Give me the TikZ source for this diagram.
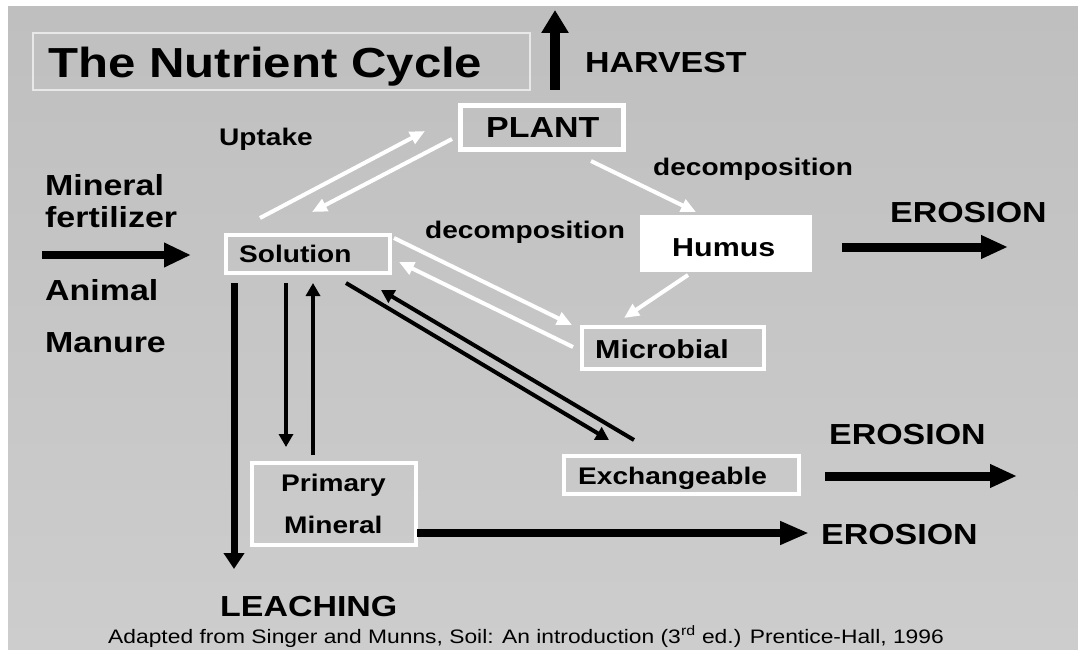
\documentclass[tikz,border=0pt]{standalone}
\usepackage{fontspec}
\setmainfont{Liberation Sans}[FakeStretch=1.17]
\usetikzlibrary{arrows.meta}
\definecolor{bgtop}{RGB}{191,191,191}
\definecolor{bgbot}{RGB}{205,205,205}
\definecolor{framec}{RGB}{232,232,232}
\begin{document}
\begin{tikzpicture}[x=1pt,y=-1pt,
  lbl/.style={inner sep=0pt, anchor=base west, font=\bfseries\fontsize{#1}{#1}\selectfont},
  lbl/.default=24,
  wbox/.style={draw=white, line width=4pt, inner sep=0pt},
  bigarrow/.style={draw=black, line width=9pt, -{Triangle[length=27pt,width=22pt]}},
  thinblack/.style={draw=black, line width=4pt, -{Triangle[length=13pt,width=14pt]}},
  whitearrow/.style={draw=white, line width=4pt, -{Triangle[length=15pt,width=13pt]}}
]
\useasboundingbox (0,0) rectangle (1078,650);
\fill[white] (0,0) rectangle (1078,650);
\shade[top color=bgtop, bottom color=bgbot] (8,7) rectangle (1078,650);

% title
\draw[framec, line width=1.2pt] (33,33) rectangle (530,90);
\node[lbl=42] (title) at (48,78) {The Nutrient Cycle};

% boxes
\node[wbox, line width=5pt, minimum width=163pt, minimum height=44pt] (plant) at (542,127.5) {};
\node[lbl=29] (planttext) at (486,138) {PLANT};
\node[wbox, minimum width=164pt, minimum height=38pt] (solution) at (308,254) {};
\node[lbl=24] (soltext) at (239,262) {Solution};
\node[fill=white, draw=none, inner sep=0pt, minimum width=172pt, minimum height=57pt] (humus) at (726,243.5) {};
\node[lbl=26] (humustext) at (672,256) {Humus};
\node[wbox, minimum width=182pt, minimum height=42pt] (microbial) at (673,348) {};
\node[lbl=26] (mictext) at (595,358) {Microbial};
\node[wbox, minimum width=235pt, minimum height=38pt] (exch) at (681.5,475) {};
\node[lbl=24] (exchtext) at (578,484) {Exchangeable};
\node[wbox, minimum width=164pt, minimum height=82pt] (primary) at (334,504) {};
\node[lbl=24] (primtext1) at (281,491) {Primary};
\node[lbl=24] (primtext2) at (284,533) {Mineral};

% labels
\node[lbl=29] (harvest) at (585,73) {HARVEST};
\node[lbl=24] (uptake) at (219,146) {Uptake};
\node[lbl=29] (mineral1) at (45,195) {Mineral};
\node[lbl=29] (mineral2) at (45,227) {fertilizer};
\node[lbl=29] (animal1) at (45,300) {Animal};
\node[lbl=29] (animal2) at (45,352) {Manure};
\node[lbl=24] (decomp1) at (653,175) {decomposition};
\node[lbl=24] (decomp2) at (425,238) {decomposition};
\node[lbl=29] (erosion1) at (890,222) {EROSION};
\node[lbl=29] (erosion2) at (829,444) {EROSION};
\node[lbl=29] (erosion3) at (821,544) {EROSION};
\node[lbl=29] (leaching) at (220,616) {LEACHING};
\node[inner sep=0pt, anchor=base west, font=\fontsize{19.5}{19.5}\selectfont] (caption) at (108,643)
  {Adapted from Singer and Munns, Soil: An introduction (3\textsuperscript{rd} ed.) Prentice-Hall, 1996};

% connector end points
\coordinate (hvA) at (555,90);   \coordinate (hvB) at (555,10);
\coordinate (feA) at (42,255);   \coordinate (feB) at (191,255);
\coordinate (e1A) at (842,247);  \coordinate (e1B) at (1008,247);
\coordinate (e2A) at (825,476);  \coordinate (e2B) at (1017,476);
\coordinate (e3A) at (417,533);  \coordinate (e3B) at (809,533);
\coordinate (lcA) at (234,283);  \coordinate (lcB) at (234,569);
\coordinate (dnA) at (286,283);  \coordinate (dnB) at (286,447);
\coordinate (upA) at (313,455);  \coordinate (upB) at (313,283);
\coordinate (u1A) at (260,218);  \coordinate (u1B) at (425,131);
\coordinate (u2A) at (452,139);  \coordinate (u2B) at (312,212);
\coordinate (phA) at (591,161);  \coordinate (phB) at (696,212);
\coordinate (smA) at (394,238);  \coordinate (smB) at (572,325);
\coordinate (msA) at (573,347);  \coordinate (msB) at (399,262);
\coordinate (hmA) at (688,275);  \coordinate (hmB) at (624,318);
\coordinate (seA) at (346,283);  \coordinate (seB) at (609,440);
\coordinate (esA) at (634,440);  \coordinate (esB) at (381,290);

% big black arrows
\draw[bigarrow, line width=10pt, -{Triangle[length=23pt,width=26pt]}] (hvA) -- (hvB);
\draw[bigarrow, line width=8pt, -{Triangle[length=27pt,width=23pt]}] (feA) -- (feB);
\draw[bigarrow] (e1A) -- (e1B);
\draw[bigarrow] (e2A) -- (e2B);
\draw[bigarrow, line width=8pt, -{Triangle[length=29pt,width=22pt]}] (e3A) -- (e3B);
\draw[bigarrow, line width=7pt, -{Triangle[length=16pt,width=20pt]}] (lcA) -- (lcB);

% thin black arrows
\draw[thinblack] (dnA) -- (dnB);
\draw[thinblack] (upA) -- (upB);
\draw[thinblack] (seA) -- (seB);
\draw[thinblack] (esA) -- (esB);

% white arrows
\draw[whitearrow] (u1A) -- (u1B);
\draw[whitearrow] (u2A) -- (u2B);
\draw[whitearrow] (phA) -- (phB);
\draw[whitearrow] (smA) -- (smB);
\draw[whitearrow] (msA) -- (msB);
\draw[whitearrow] (hmA) -- (hmB);
\end{tikzpicture}
\end{document}
